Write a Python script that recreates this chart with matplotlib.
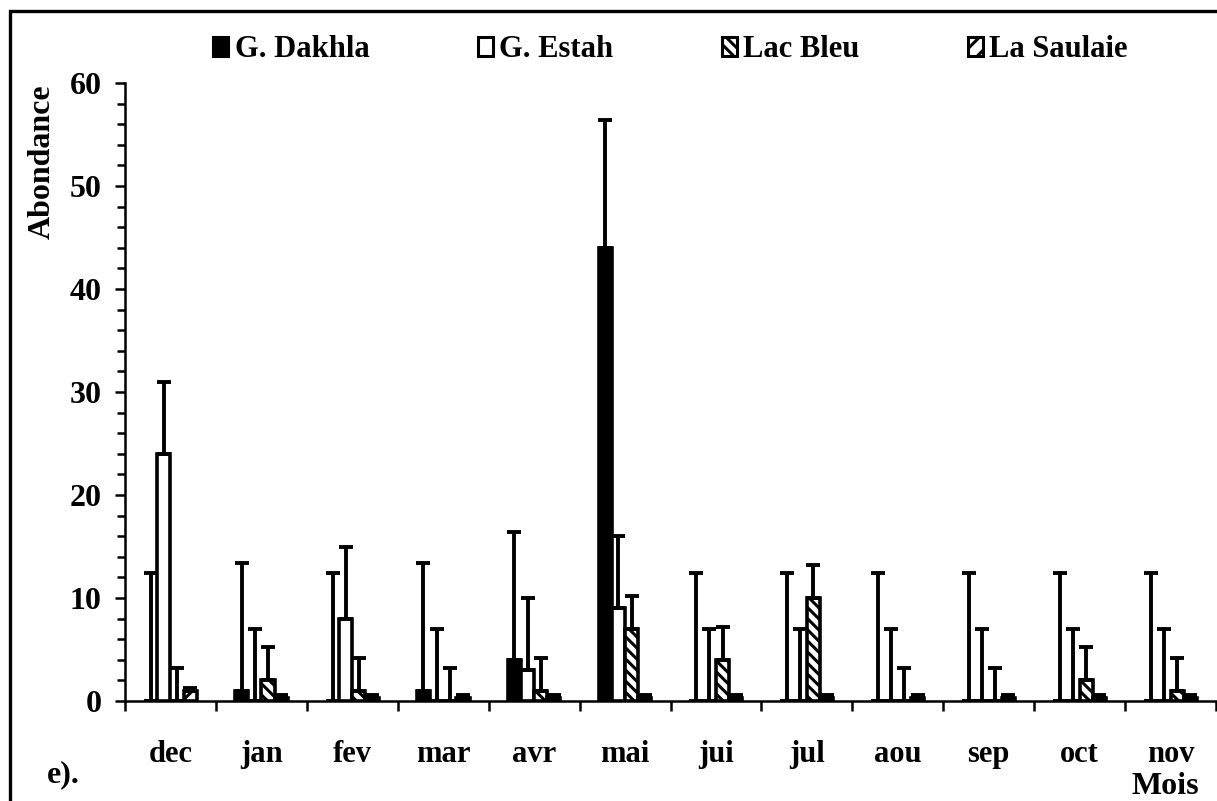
import numpy as np
import matplotlib
matplotlib.use("Agg")
import matplotlib.pyplot as plt
from matplotlib.patches import Rectangle
from matplotlib.ticker import MultipleLocator, FixedLocator, NullFormatter

plt.rcParams["font.family"] = ["Liberation Serif", "DejaVu Serif"]
plt.rcParams["font.weight"] = "bold"
plt.rcParams["hatch.linewidth"] = 2.2

months = ["dec", "jan", "fev", "mar", "avr", "mai", "jui", "jul", "aou", "sep", "oct", "nov"]
sites = ["G. Dakhla", "G. Estah", "Lac Bleu", "La Saulaie"]

dakhla = [0, 1, 0, 1, 4, 44, 0, 0, 0, 0, 0, 0]
estah = [24, 0, 8, 0, 3, 9, 0, 0, 0, 0, 0, 0]
lac_bleu = [0, 2, 1, 0, 1, 7, 4, 10, 0, 0, 2, 1]
saulaie = [1, 0.3, 0.3, 0.3, 0.3, 0.3, 0.3, 0.3, 0.3, 0.3, 0.3, 0.3]

dakhla_err = [12.4] * 12
estah_err = [7] * 12
lac_bleu_err = [3.2] * 12
saulaie_err = [0.3] * 12

series = [dakhla, estah, lac_bleu, saulaie]
errors = [dakhla_err, estah_err, lac_bleu_err, saulaie_err]
faces = ["black", "white", "white", "white"]
hatches = [None, None, "\\\\\\", "//"]

fig = plt.figure(figsize=(12.17, 8.01), dpi=100)
ax = fig.add_axes([125 / 1217, 100 / 801, 1091 / 1217, 618 / 801])

x = np.arange(len(months))
w = 0.145
for i, (vals, err) in enumerate(zip(series, errors)):
    pos = x + (i - 1.5) * w
    # empty months get no outline so nothing thickens the baseline
    lw = [2.6 if v > 0 else 0 for v in vals]
    ax.bar(pos, vals, width=w, color=faces[i], edgecolor="black",
           linewidth=lw, hatch=hatches[i], zorder=2)
    ax.errorbar(pos, vals, yerr=[np.zeros(len(err)), err], fmt="none",
                ecolor="black", elinewidth=2.8, capsize=5, capthick=2.8, zorder=3)

# legend swatches
handles = [Rectangle((0, 0), 1, 1, facecolor=faces[i], edgecolor="black",
                     linewidth=2.2, hatch=hatches[i]) for i in range(4)]

ax.set_xlim(-0.5, 11.5)
ax.set_ylim(0, 60)
ax.spines["top"].set_visible(False)
ax.spines["right"].set_visible(False)
ax.spines["left"].set_linewidth(1.8)
ax.spines["bottom"].set_linewidth(1.8)

ax.yaxis.set_major_locator(MultipleLocator(10))
ax.yaxis.set_minor_locator(MultipleLocator(2))
ax.tick_params(axis="y", which="major", direction="out", length=7, width=1.8,
               labelsize=23, pad=10)
ax.tick_params(axis="y", which="minor", direction="out", length=6, width=1.8)

# month boundaries carry the ticks, names sit at the group centres
ax.xaxis.set_major_locator(FixedLocator(np.arange(-0.5, 12, 1)))
ax.xaxis.set_major_formatter(NullFormatter())
ax.xaxis.set_minor_locator(FixedLocator(x))
ax.set_xticklabels(months, minor=True)
ax.tick_params(axis="x", which="major", direction="out", length=7, width=1.8)
ax.tick_params(axis="x", which="minor", length=0, labelsize=22, pad=28)

ax.legend(handles, sites, loc="center", bbox_to_anchor=(0.5, 1.054), ncol=4,
          frameon=False, fontsize=22, handlelength=0.5, handleheight=0.6,
          handletextpad=0.2, columnspacing=3.55)

fig.text(42 / 1217, 1 - 162 / 801, "Abondance", rotation=90, ha="center",
         va="center", fontsize=23)
fig.text(63 / 1217, 1 - 775 / 801, "e).", ha="center", va="center", fontsize=23)
fig.text(1165 / 1217, 1 - 786 / 801, "Mois", ha="center", va="center", fontsize=23)

fig.patches.append(Rectangle((10 / 1217, -0.1), 1.2, 1.086, transform=fig.transFigure,
                             fill=False, edgecolor="black", linewidth=2.4))

fig.savefig("out.png", dpi=100)
